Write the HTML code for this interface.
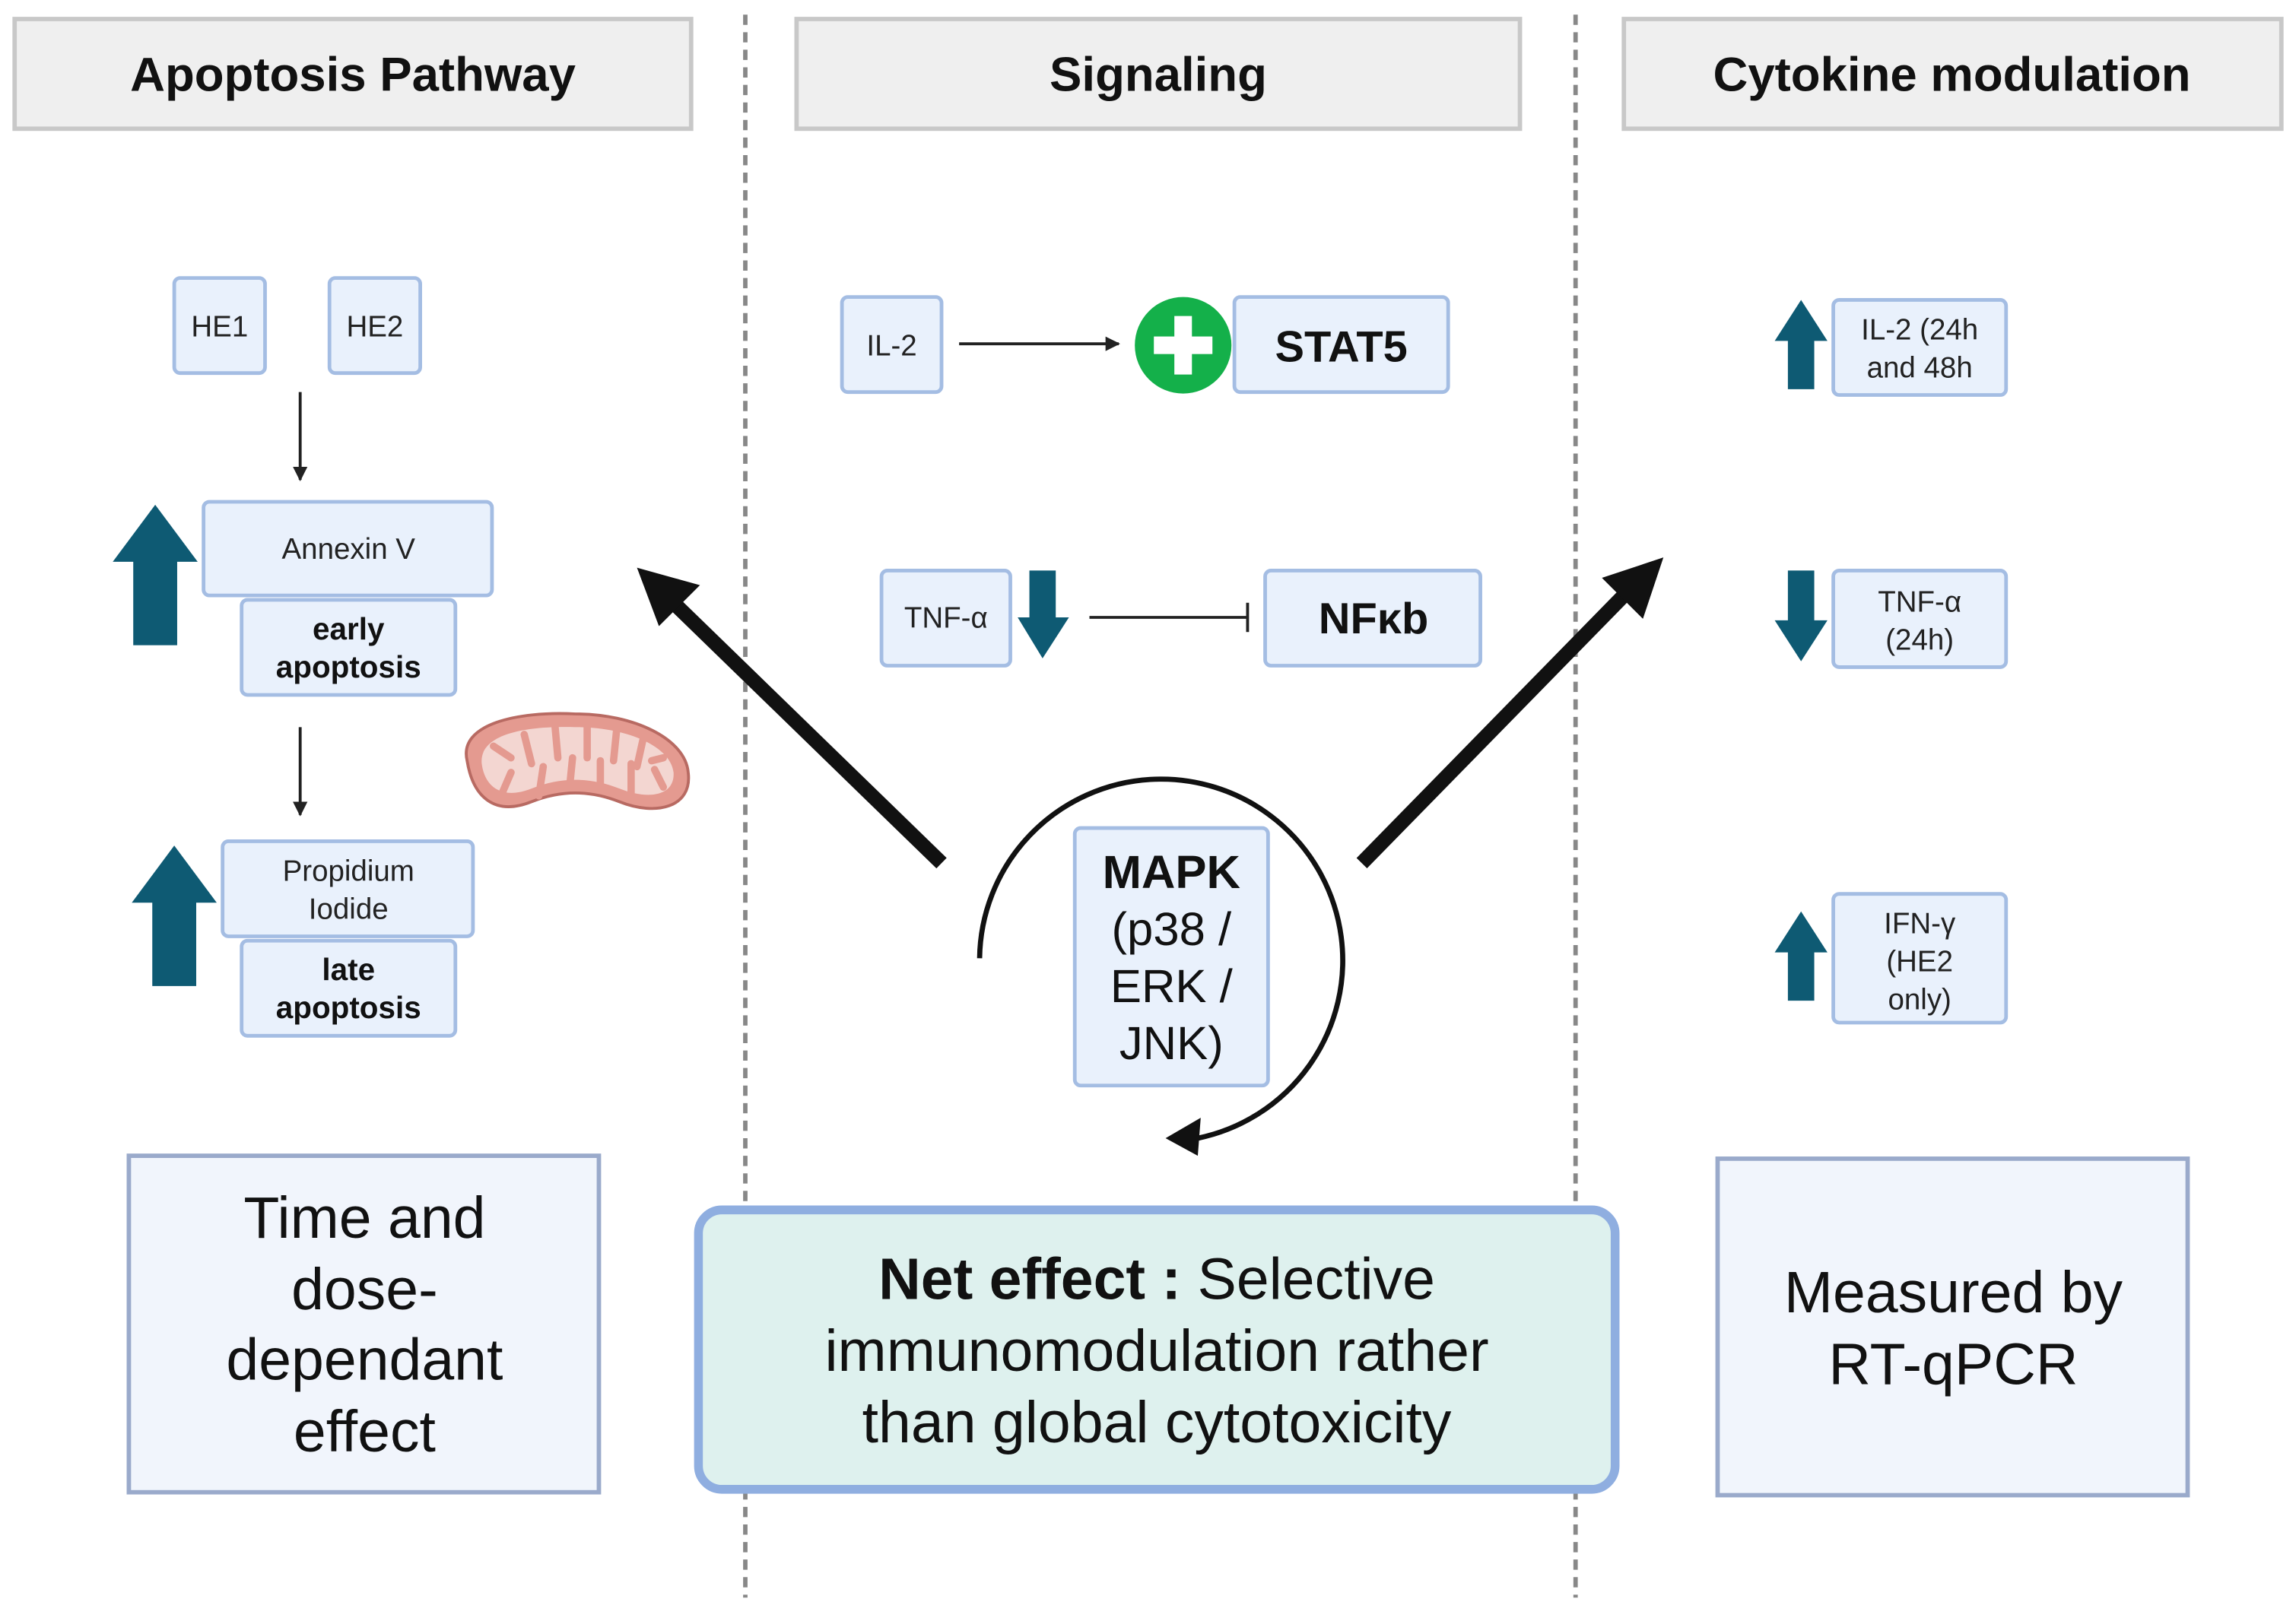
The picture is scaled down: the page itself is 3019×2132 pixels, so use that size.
<!DOCTYPE html>
<html><head><meta charset="utf-8"><style>
html,body{margin:0;padding:0;background:#fff;}
svg{display:block;}
text{font-family:"Liberation Sans",sans-serif;}
</style></head><body>
<svg width="3019" height="2132" viewBox="0 0 1568 1108" preserveAspectRatio="none" xmlns="http://www.w3.org/2000/svg">
<defs>
<marker id="ah" markerWidth="10" markerHeight="10" refX="9" refY="5" orient="auto" markerUnits="userSpaceOnUse"><path d="M0,0 L10,5 L0,10 z" fill="#222"/></marker>
<marker id="ah2" markerWidth="14" markerHeight="12" refX="12" refY="6" orient="auto" markerUnits="userSpaceOnUse"><path d="M0,0 L14,6 L0,12 z" fill="#222"/></marker>
</defs>
<rect width="1568" height="1108" fill="#fff"/>
<!-- dividers -->
<line x1="509" y1="10" x2="509" y2="1092" stroke="#888" stroke-width="3" stroke-dasharray="7,5"/>
<line x1="1076" y1="10" x2="1076" y2="1092" stroke="#888" stroke-width="3" stroke-dasharray="7,5"/>
<!-- headers -->
<g stroke="#c8c8c8" stroke-width="3" fill="#efefef">
<rect x="10" y="13" width="462" height="75"/>
<rect x="544" y="13" width="494" height="75"/>
<rect x="1109" y="13" width="449" height="75"/>
</g>
<g font-weight="bold" font-size="33" text-anchor="middle" fill="#111">
<text x="241" y="62">Apoptosis Pathway</text>
<text x="791" y="62">Signaling</text>
<text x="1333" y="62">Cytokine modulation</text>
</g>
<!-- small boxes -->
<g fill="#e9f1fc" stroke="#a4bde3" stroke-width="2.5">
<rect x="119" y="190" width="62" height="65" rx="4"/>
<rect x="225" y="190" width="62" height="65" rx="4"/>
<rect x="139" y="343" width="197" height="64" rx="4"/>
<rect x="165" y="410" width="146" height="65" rx="4"/>
<rect x="152" y="575" width="171" height="65" rx="4"/>
<rect x="165" y="643" width="146" height="65" rx="4"/>
<rect x="575" y="203" width="68" height="65" rx="4"/>
<rect x="843" y="203" width="146" height="65" rx="4"/>
<rect x="602" y="390" width="88" height="65" rx="4"/>
<rect x="864" y="390" width="147" height="65" rx="4"/>
<rect x="734" y="566" width="132" height="176" rx="4"/>
<rect x="1252" y="205" width="118" height="65" rx="4"/>
<rect x="1252" y="390" width="118" height="66" rx="4"/>
<rect x="1252" y="611" width="118" height="88" rx="4"/>
</g>
<g font-size="20" text-anchor="middle" fill="#222">
<text x="150" y="230">HE1</text>
<text x="256" y="230">HE2</text>
<text x="238" y="382">Annexin V</text>
<text x="238" y="602">Propidium</text>
<text x="238" y="628">Iodide</text>
<text x="609" y="243">IL-2</text>
<text x="646" y="429">TNF-α</text>
<text x="1311" y="232">IL-2 (24h</text>
<text x="1311" y="258">and 48h</text>
<text x="1311" y="418">TNF-α</text>
<text x="1311" y="444">(24h)</text>
<text x="1311" y="638">IFN-γ</text>
<text x="1311" y="664">(HE2</text>
<text x="1311" y="690">only)</text>
</g>
<g font-size="21" font-weight="bold" text-anchor="middle" fill="#111">
<text x="238" y="437">early</text>
<text x="238" y="463">apoptosis</text>
<text x="238" y="670">late</text>
<text x="238" y="696">apoptosis</text>
</g>
<text x="916" y="247" font-size="30" font-weight="bold" text-anchor="middle" fill="#111">STAT5</text>
<text x="938" y="433" font-size="30" font-weight="bold" text-anchor="middle" fill="#111">NFκb</text>
<g font-size="32" text-anchor="middle" fill="#111">
<text x="800" y="607" font-weight="bold">MAPK</text>
<text x="800" y="646">(p38 /</text>
<text x="800" y="685">ERK /</text>
<text x="800" y="724">JNK)</text>
</g>
<!-- thin arrows -->
<g stroke="#222" stroke-width="2" fill="none">
<line x1="205" y1="268" x2="205" y2="328" marker-end="url(#ah)"/>
<line x1="205" y1="497" x2="205" y2="557" marker-end="url(#ah)"/>
<line x1="655" y1="235" x2="764" y2="235" marker-end="url(#ah)"/>
<line x1="744" y1="422" x2="852" y2="422"/>
<line x1="852" y1="412" x2="852" y2="432"/>
</g>
<!-- green plus -->
<circle cx="808" cy="236" r="33" fill="#14b04a"/>
<rect x="788" y="230" width="40" height="12" fill="#fff"/>
<rect x="802" y="216" width="12" height="40" fill="#fff"/>
<!-- teal arrows -->
<g fill="#0e5a73">
<path d="M77,384 L106,345 L135,384 L121,384 L121,441 L91,441 L91,384 z"/>
<path d="M90,617 L119,578 L148,617 L134,617 L134,674 L104,674 L104,617 z"/>
<path d="M695,422 L712,450 L730,422 L721,422 L721,390 L703,390 L703,422 z"/>
<path d="M1212,233 L1230,205 L1248,233 L1239,233 L1239,266 L1221,266 L1221,233 z"/>
<path d="M1212,424 L1230,452 L1248,424 L1239,424 L1239,390 L1221,390 L1221,424 z"/>
<path d="M1212,651 L1230,623 L1248,651 L1239,651 L1239,684 L1221,684 L1221,651 z"/>
</g>
<!-- mitochondria -->
<g transform="translate(313,480)">
<path d="M6,40 C0,15 40,6 80,8 C120,8 155,25 157,48 C160,72 135,78 110,68 C90,60 70,60 50,68 C25,78 10,65 6,40 z" fill="#e49a90" stroke="#b86a62" stroke-width="2"/>
<path d="M16,42 C14,22 45,16 80,17 C115,17 145,30 147,48 C148,64 130,67 110,59 C90,51 70,51 50,59 C30,67 18,58 16,42 z" fill="#f3d6d1"/>
<g stroke="#e49a90" stroke-width="5" stroke-linecap="round">
<line x1="24" y1="30" x2="36" y2="38"/><line x1="30" y1="62" x2="36" y2="48"/>
<line x1="45" y1="22" x2="50" y2="42"/><line x1="55" y1="64" x2="58" y2="44"/>
<line x1="66" y1="16" x2="68" y2="38"/><line x1="76" y1="58" x2="78" y2="38"/>
<line x1="88" y1="17" x2="88" y2="38"/><line x1="97" y1="58" x2="97" y2="40"/>
<line x1="108" y1="20" x2="106" y2="40"/><line x1="118" y1="62" x2="118" y2="42"/>
<line x1="126" y1="26" x2="122" y2="44"/><line x1="140" y1="58" x2="134" y2="46"/>
<line x1="140" y1="38" x2="132" y2="40"/>
</g>
</g>
<!-- big black arrows -->
<g stroke="#111" stroke-width="10" fill="none">
<line x1="643" y1="590" x2="462" y2="414"/>
<line x1="930" y1="590" x2="1108" y2="408"/>
</g>
<path d="M435,388 L478,400 L450,428 z" fill="#111"/>
<path d="M1136,381 L1122,423 L1094,395 z" fill="#111"/>
<!-- circular arrow -->
<path d="M669,655 A124,124 0 1 1 818,778" fill="none" stroke="#111" stroke-width="3.5"/>
<path d="M796,778 L820,764 L818,790 z" fill="#111"/>
<!-- bottom boxes -->
<rect x="88" y="790" width="321" height="230" fill="#f1f5fc" stroke="#9aaacb" stroke-width="3"/>
<rect x="1173" y="792" width="321" height="230" fill="#f1f5fc" stroke="#9aaacb" stroke-width="3"/>
<rect x="477" y="827" width="626" height="191" rx="16" fill="#def1ee" stroke="#8faee0" stroke-width="6"/>
<g font-size="40" text-anchor="middle" fill="#111">
<text x="249" y="846">Time and</text>
<text x="249" y="895">dose-</text>
<text x="249" y="943">dependant</text>
<text x="249" y="992">effect</text>
<text x="1334" y="897">Measured by</text>
<text x="1334" y="946">RT-qPCR</text>
<text x="790" y="888"><tspan font-weight="bold">Net effect :</tspan> Selective</text>
<text x="790" y="937">immunomodulation rather</text>
<text x="790" y="986">than global cytotoxicity</text>
</g>
</svg>
</body></html>
